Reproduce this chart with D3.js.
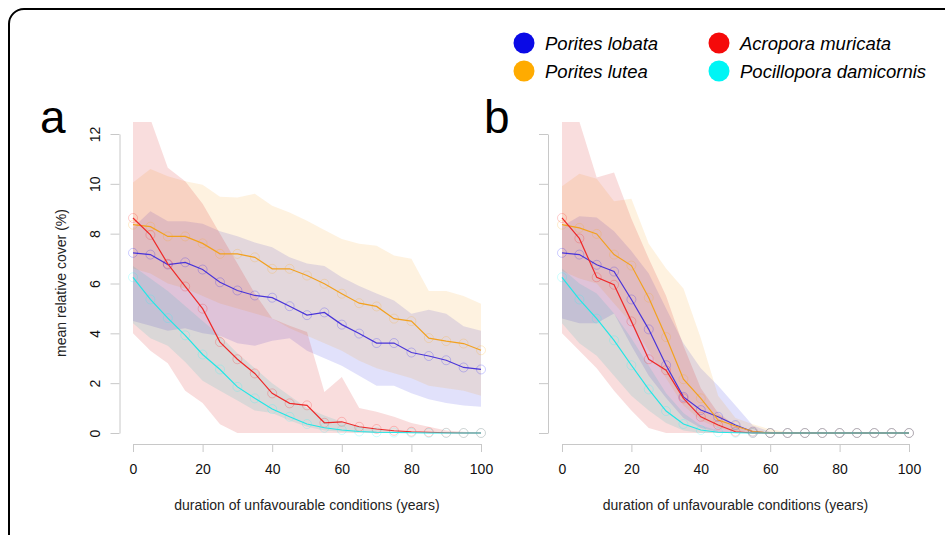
<!DOCTYPE html>
<html><head><meta charset="utf-8">
<script src="https://cdn.jsdelivr.net/npm/d3@7"></script>
<style>body{margin:0;background:#fff}svg{display:block;font-family:"Liberation Sans",Arial,Helvetica,sans-serif}</style>
</head><body><svg id="c" width="945" height="535"></svg>
<script>
const years = [0,5,10,15,20,25,30,35,40,45,50,55,60,65,70,75,80,85,90,95,100];
const speciesNames = ["Porites lobata","Porites lutea","Acropora muricata","Pocillopora damicornis"];
const speciesColors = ["#0000ff","#ffa500","#ff0000","#00ffff"];
const bandColors = ["#1818e0","#f59a10","#d81818","#10b0b0"];
const lineColors = ["#4a35d8","#f2a11f","#ee2a2a","#22e6e6"];
const yTicks = [0,2,4,6,8,10,12];
const xTicks = [0,20,40,60,80,100];

// Panel a
const aLobataMean  = [7.23,7.16,6.76,6.85,6.56,6.05,5.72,5.52,5.43,5.09,4.73,4.84,4.35,3.99,3.61,3.61,3.23,3.09,2.92,2.63,2.55];
const aLobataUpper = [8.25,8.9,8.5,8.5,8.4,8.1,7.9,7.65,7.45,7.05,6.8,6.7,6.25,5.9,5.6,5.32,4.79,4.95,4.79,4.28,4.1];
const aLobataLower = [4.5,4.3,4.1,4.2,4.0,3.9,3.6,3.5,3.7,3.8,3.3,3.0,2.7,2.3,1.9,1.9,1.6,1.35,1.2,1.1,1.05];
const aLuteaMean   = [8.36,8.28,7.89,7.89,7.61,7.19,7.19,7.05,6.59,6.59,6.32,5.99,5.59,5.21,5.08,4.59,4.49,3.81,3.69,3.59,3.32];
const aLuteaUpper  = [10.05,10.6,10.3,10.1,9.96,9.48,9.45,9.6,9.12,8.85,8.52,8.15,7.79,7.6,7.52,7.12,6.99,5.7,5.7,5.5,5.19];
const aLuteaLower  = [6.6,6.4,6.0,5.8,5.5,5.2,5.0,4.8,4.6,4.2,3.9,3.6,3.3,2.9,2.6,2.4,2.2,1.9,1.8,1.7,1.5];
const aMuricataMean  = [8.63,7.95,6.79,5.88,4.99,3.65,2.96,2.39,1.59,1.19,1.11,0.41,0.45,0.25,0.16,0.09,0.05,0.03,0.01,0,0];
const aMuricataUpper = [13,12.6,10.65,10.1,9.2,8.0,6.8,5.6,4.6,4.3,4.05,1.65,2.25,1.0,0.85,0.65,0.4,0.25,0.1,0.05,0.02];
const aMuricataLower = [4.0,3.3,2.8,1.7,1.2,0.35,0,0,0,0,0,0,0,0,0,0,0,0,0,0,0];
const aDamicornisMean  = [6.25,5.36,4.61,3.92,3.15,2.55,1.85,1.39,0.96,0.65,0.36,0.21,0.12,0.06,0.03,0.02,0.01,0,0,0,0];
const aDamicornisUpper = [6.7,6.2,5.7,5.1,4.5,3.9,3.2,2.6,2.0,1.5,1.0,0.7,0.45,0.25,0.15,0.1,0.05,0.02,0.01,0,0];
const aDamicornisLower = [4.4,3.8,3.5,2.85,2.1,1.7,1.3,0.9,0.8,0.5,0.25,0.1,0.05,0.02,0,0,0,0,0,0,0];

// Panel b
const bLobataMean  = [7.23,7.16,6.75,6.48,5.36,4.16,2.72,1.45,0.92,0.65,0.32,0.05,0,0,0,0,0,0,0,0,0];
const bLobataUpper = [8.3,8.7,8.65,8.1,7.3,6.4,5.0,3.6,2.6,1.9,1.1,0.3,0.05,0,0,0,0,0,0,0,0];
const bLobataLower = [4.6,4.4,4.4,4.8,3.5,2.3,1.4,0.6,0.2,0.05,0,0,0,0,0,0,0,0,0,0,0];
const bLuteaMean   = [8.36,8.23,7.99,7.16,6.72,5.43,3.85,2.16,1.39,0.52,0.28,0.06,0,0,0,0,0,0,0,0,0];
const bLuteaUpper  = [9.9,10.4,10.2,9.3,9.4,7.6,6.6,5.8,3.8,1.5,0.6,0.35,0.15,0.03,0,0,0,0,0,0,0];
const bLuteaLower  = [6.5,6.2,6.0,5.2,4.4,3.3,2.2,1.1,0.5,0.2,0.05,0,0,0,0,0,0,0,0,0,0];
const bMuricataMean  = [8.63,7.81,6.25,5.95,4.48,2.96,2.52,1.39,0.65,0.32,0.05,0,0,0,0,0,0,0,0,0,0];
const bMuricataUpper = [13,12.5,10.25,10.45,8.6,7.0,5.5,3.5,1.8,0.8,0.3,0.1,0,0,0,0,0,0,0,0,0];
const bMuricataLower = [4.0,3.3,2.6,1.7,0.9,0.2,0,0,0,0,0,0,0,0,0,0,0,0,0,0,0];
const bDamicornisMean  = [6.25,5.36,4.59,3.72,2.72,1.75,0.88,0.36,0.12,0.03,0.01,0,0,0,0,0,0,0,0,0,0];
const bDamicornisUpper = [6.6,6.0,5.6,4.8,3.8,2.7,1.6,0.8,0.3,0.1,0.02,0,0,0,0,0,0,0,0,0,0];
const bDamicornisLower = [4.4,3.6,3.1,2.3,1.5,0.9,0.4,0.1,0,0,0,0,0,0,0,0,0,0,0,0,0];

const panels = [
  {left:133,right:481,axisX:119.5,label:"a",labelX:40,showY:true,
   series:[[aLobataMean,aLobataLower,aLobataUpper],[aLuteaMean,aLuteaLower,aLuteaUpper],
           [aMuricataMean,aMuricataLower,aMuricataUpper],[aDamicornisMean,aDamicornisLower,aDamicornisUpper]]},
  {left:562,right:909,axisX:548,label:"b",labelX:484,showY:false,
   series:[[bLobataMean,bLobataLower,bLobataUpper],[bLuteaMean,bLuteaLower,bLuteaUpper],
           [bMuricataMean,bMuricataLower,bMuricataUpper],[bDamicornisMean,bDamicornisLower,bDamicornisUpper]]}
];

const svg = d3.select("#c");
svg.append("rect").attr("x",9).attr("y",9).attr("width",960).attr("height",540)
  .attr("rx",15).attr("fill","none").attr("stroke","#000").attr("stroke-width",2);

const y = d3.scaleLinear().domain([0,12]).range([433,134]);

panels.forEach((p,pi)=>{
  const x = d3.scaleLinear().domain([0,100]).range([p.left,p.right]);
  const g = svg.append("g");
  const clipId = "clip"+pi;
  const pad = (p.right-p.left)*0.04;
  svg.append("clipPath").attr("id",clipId).append("rect")
    .attr("x",p.left-pad).attr("y",y(12.48)).attr("width",p.right-p.left+2*pad).attr("height",y(-0.48)-y(12.48));
  const area = d3.area().x((d,i)=>x(years[i])).y0(d=>y(d[0])).y1(d=>y(d[1]));
  const line = d3.line().x((d,i)=>x(years[i])).y(d=>y(d));
  const cg = g.append("g").attr("clip-path",`url(#${clipId})`);
  p.series.forEach((s,si)=>{
    const data = s[1].map((lo,i)=>[lo,s[2][i]]);
    cg.append("path").attr("d",area(data)).attr("fill",bandColors[si]).attr("fill-opacity",si==2?0.15:0.13);
  });
  p.series.forEach((s,si)=>{
    cg.append("path").attr("d",line(s[0])).attr("fill","none").attr("stroke",lineColors[si]).attr("stroke-width",1.2);
    cg.selectAll(null).data(s[0]).enter().append("circle")
      .attr("cx",(d,i)=>x(years[i])).attr("cy",d=>y(d)).attr("r",4.5)
      .attr("fill","none").attr("stroke",speciesColors[si]).attr("stroke-opacity",0.22).attr("stroke-width",0.9);
  });
  // x axis
  const xa = g.append("g").attr("transform","translate(0,444)")
    .call(d3.axisBottom(x).tickValues(xTicks).tickSize(8).tickPadding(12).tickSizeOuter(0));
  xa.select(".domain").attr("stroke","#c8c8c8");
  xa.selectAll(".tick line").attr("stroke","#c8c8c8");
  xa.selectAll("text").attr("font-size",14).attr("fill","#111").attr("font-family","Liberation Sans, Arial");
  // y axis
  const ya = g.append("g").attr("transform",`translate(${p.axisX},0)`)
    .call(d3.axisLeft(y).tickValues(yTicks).tickSize(9).tickSizeOuter(0));
  ya.select(".domain").attr("stroke","#c8c8c8");
  ya.selectAll(".tick line").attr("stroke","#c8c8c8");
  if(p.showY){
    ya.selectAll("text").attr("font-size",14).attr("fill","#111").attr("font-family","Liberation Sans, Arial")
      .attr("transform","rotate(-90)").attr("x",0).attr("y",-24).attr("dy","0.35em").attr("text-anchor","middle");
  } else {
    ya.selectAll("text").remove();
  }
  g.append("text").attr("x",(p.left+p.right)/2).attr("y",510).attr("text-anchor","middle")
    .attr("font-size",14).attr("fill","#222").text("duration of unfavourable conditions (years)");
  if(p.showY){
    g.append("text").attr("transform","translate(66,283) rotate(-90)").attr("text-anchor","middle")
      .attr("font-size",14).attr("fill","#222").text("mean relative cover (%)");
  }
  g.append("text").attr("x",p.labelX).attr("y",133).attr("font-size",46).attr("fill","#000").text(p.label);
});

// legend
const legendDot = ["#0a0ae6","#ffab00","#f50a0a","#00f5f5"];
const legPos = [[524,43],[524,71],[719,43],[719,71]];
speciesNames.forEach((n,i)=>{
  const lg = svg.append("g").attr("transform",`translate(${legPos[i][0]},${legPos[i][1]})`);
  lg.append("circle").attr("r",10.5).attr("fill",legendDot[i]);
  lg.append("text").attr("x",21).attr("y",6.5).attr("font-size",18.5).attr("font-style","italic").attr("fill","#000").text(n);
});
</script></body></html>
